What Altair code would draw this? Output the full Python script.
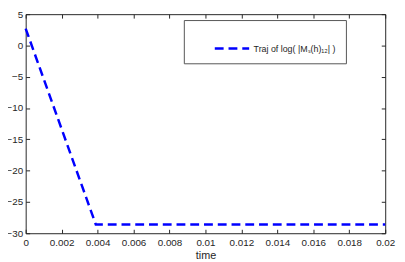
import altair as alt
import pandas as pd

# data
t_vals = [0.0, 0.0039, 0.02]
v_vals = [2.7, -28.6, -28.6]
series_name = "Traj of log( |M\u209b(h)\u2081\u2082| )" + "\u00a0" * 8
x_ticks = [0, 0.002, 0.004, 0.006, 0.008, 0.01, 0.012, 0.014, 0.016, 0.018, 0.02]
y_ticks = [5, 0, -5, -10, -15, -20, -25, -30]

df = pd.DataFrame({"t": t_vals, "v": v_vals, "series": [series_name] * len(t_vals)})

FONT = "Liberation Sans"
AX = "#262626"
xscale = alt.Scale(domain=[0, 0.02], nice=False, zero=False)
yscale = alt.Scale(domain=[-30, 5], nice=False, zero=False)

base = alt.Chart(df)

line = base.mark_line(color="#0000FF", strokeDash=[9, 5], strokeWidth=2.5).encode(
    x=alt.X("t:Q", scale=xscale,
            axis=alt.Axis(values=x_ticks, format="~g", ticks=False, domain=False, grid=False,
                          title="time", labelPadding=5, titlePadding=2, labelFontSize=10,
                          titleFontSize=11, titleFontWeight="normal", labelColor=AX,
                          titleColor=AX, labelFont=FONT, titleFont=FONT, labelFlush=False)),
    y=alt.Y("v:Q", scale=yscale,
            axis=alt.Axis(values=y_ticks, ticks=False, domain=False, grid=False, title=None,
                          labelPadding=3, labelFontSize=10, labelColor=AX, labelFont=FONT,
                          labelFlush=False)),
    color=alt.Color("series:N", scale=alt.Scale(range=["#0000FF"]),
                    legend=alt.Legend(title=None, orient="none", legendX=161, legendY=6,
                                      symbolType="stroke", symbolSize=1225,
                                      symbolStrokeWidth=2.5, symbolDash=[9, 5],
                                      symbolOffset=20, labelOffset=3, padding=10,
                                      strokeColor="#555555", fillColor="white",
                                      labelFont=FONT, labelFontSize=9, labelColor=AX,
                                      labelLimit=400)),
)

tick_axis = dict(labels=False, domain=False, grid=False, ticks=True, tickSize=4,
                 offset=-4, tickColor=AX, title=None)

ticks_bl = base.mark_line(opacity=0).encode(
    x=alt.X("t:Q", scale=xscale, axis=alt.Axis(values=x_ticks, orient="bottom", **tick_axis)),
    y=alt.Y("v:Q", scale=yscale, axis=alt.Axis(values=y_ticks, orient="left", **tick_axis)),
)
ticks_tr = base.mark_line(opacity=0).encode(
    x=alt.X("t:Q", scale=xscale, axis=alt.Axis(values=x_ticks, orient="top", **tick_axis)),
    y=alt.Y("v:Q", scale=yscale, axis=alt.Axis(values=y_ticks, orient="right", **tick_axis)),
)

chart = alt.layer(line, ticks_bl, ticks_tr).resolve_axis(
    x="independent", y="independent"
).properties(
    width=366, height=223, autosize="none",
    padding={"left": 18, "top": 4, "right": 12, "bottom": 27},
).configure_view(stroke=AX, strokeWidth=1)

chart.save("out.html", embed_options={"renderer": "svg", "actions": False})
